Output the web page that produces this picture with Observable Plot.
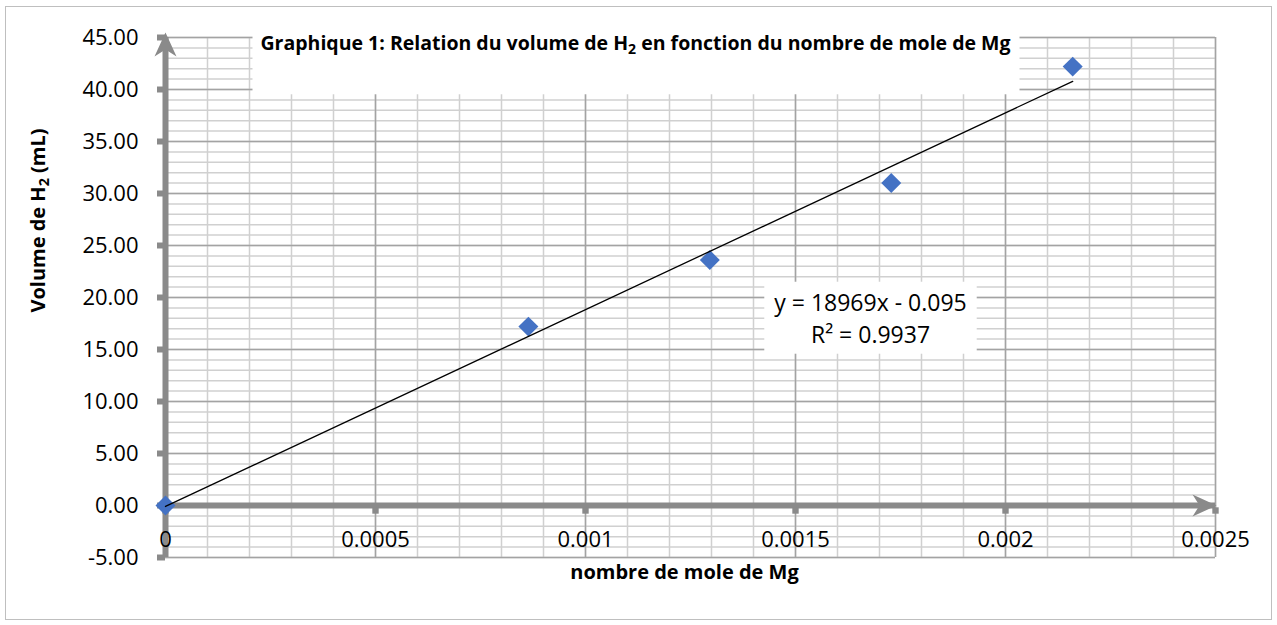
<!DOCTYPE html>
<html>
<head>
<meta charset="utf-8">
<script src="https://cdn.jsdelivr.net/npm/d3@7"></script>
<script src="https://cdn.jsdelivr.net/npm/@observablehq/plot@0.6"></script>
<style>
  body { margin: 0; background: #fff; }
  #wrap { position: relative; width: 1277px; height: 625px; }
  #wrap svg { position: absolute; left: 0; top: 0; display: block; }
  #border { position: absolute; left: 5px; top: 6px; width: 1267px; height: 614px;
            border: 1.5px solid #bfbfbf; box-sizing: border-box; pointer-events: none; }
</style>
</head>
<body>
<div id="wrap"><div id="border"></div></div>
<script>
// ---- data ----
const molesMg   = [0, 0.000864, 0.001296, 0.001728, 0.00216];
const volumeH2  = [0.00, 17.2, 23.6, 31.0, 42.2];
const xTicks    = [0, 0.0005, 0.001, 0.0015, 0.002, 0.0025];
const yTicks    = [-5, 0, 5, 10, 15, 20, 25, 30, 35, 40, 45];
const trendSlope = 18969;
const trendIntercept = -0.095;
const rSquared = 0.9937;
const titleText = "Graphique 1: Relation du volume de H2 en fonction du nombre de mole de Mg";
const xTitle = "nombre de mole de Mg";
const yTitle = "Volume de H2 (mL)";

const points = molesMg.map((x, i) => ({x, y: volumeH2[i]}));
const xMin = xTicks[0], xMax = xTicks[xTicks.length - 1];
const yMin = yTicks[0], yMax = yTicks[yTicks.length - 1];
const xMinor = d3.range(0, 26).map(i => i * 0.0001);
const yMinor = d3.range(yMin, yMax + 1, 1);

const axisGray = "#8a8a8a";
const majorGrid = "#a3a3a3";
const minorGrid = "#d0d0d0";
const font = "Open Sans";

const arrowUp = { draw(ctx) { ctx.moveTo(0, 0); ctx.lineTo(11, 24); ctx.lineTo(0, 17); ctx.lineTo(-11, 24); ctx.closePath(); } };
const arrowRight = { draw(ctx) { ctx.moveTo(0, 0); ctx.lineTo(-24, -11); ctx.lineTo(-17, 0); ctx.lineTo(-24, 11); ctx.closePath(); } };

const eqText = `y = ${trendSlope}x ${trendIntercept < 0 ? "-" : "+"} ${Math.abs(trendIntercept)}\nR² = ${rSquared}`;

const svg = Plot.plot({
  width: 1277,
  height: 625,
  marginLeft: 165,
  marginRight: 62,
  marginTop: 37,
  marginBottom: 68,
  style: { fontFamily: font, fontSize: "22px", color: "black", background: "transparent", overflow: "visible" },
  x: { domain: [xMin, xMax] },
  y: { domain: [yMin, yMax] },
  marks: [
    Plot.ruleY(yMinor, { stroke: minorGrid, strokeWidth: 1.5 }),
    Plot.ruleX(xMinor, { stroke: minorGrid, strokeWidth: 1.5 }),
    Plot.ruleY(yTicks, { stroke: majorGrid, strokeWidth: 1.5 }),
    Plot.ruleX(xTicks, { stroke: majorGrid, strokeWidth: 1.5 }),
    // axis lines
    Plot.ruleY([0], { x1: xMin, x2: xMax, stroke: axisGray, strokeWidth: 6 }),
    Plot.ruleX([0], { y1: yMin, y2: yMax, stroke: axisGray, strokeWidth: 6 }),
    Plot.axisY({ ticks: yTicks, tickFormat: d => d.toFixed(2), tickSize: 8, tickPadding: 19,
                 stroke: axisGray, strokeWidth: 6, label: null, fontSize: 22 }),
    Plot.dot(xTicks, { x: d => d, y: () => 0, symbol: "square", r: 3.6, dy: 5, fill: axisGray }),
    Plot.dot([yMax], { x: () => 0, y: d => d, symbol: arrowUp, fill: axisGray, dy: -5 }),
    Plot.dot([xMax], { x: d => d, y: () => 0, symbol: arrowRight, fill: axisGray, dx: 1 }),
    // data
    Plot.dot(points, { x: "x", y: "y", symbol: "diamond2", r: 9, fill: "#4472C4" }),
    Plot.linearRegressionY(points, { x: "x", y: "y", ci: 0, stroke: "black", strokeWidth: 1.3 }),
    Plot.axisX({ ticks: xTicks, tickFormat: d => String(+d.toFixed(4)), tickSize: 0, tickPadding: 0,
                 dy: -26, label: null, fontSize: 22 }),
    // titles
    Plot.text([xTitle], { frameAnchor: "bottom", dx: -6, dy: 21, fontWeight: "bold", fontSize: 20 }),
    Plot.text([yTitle], { frameAnchor: "left", textAnchor: "middle", dx: -127, dy: -77, rotate: -90, fontWeight: "bold", fontSize: 20 }),
    Plot.text([titleText], { frameAnchor: "top", dx: -55, dy: -1, fontWeight: "bold", fontSize: 19.5 }),
    Plot.text([eqText], { frameAnchor: "middle", dx: 180, dy: 19, fontSize: 23, lineHeight: 1.39 })
  ]
});

const wrap = document.getElementById("wrap");
wrap.insertBefore(svg, wrap.firstChild);

const NS = "http://www.w3.org/2000/svg";
function findText(str) {
  return Array.from(svg.querySelectorAll("text")).find(t => t.textContent === str);
}
function findTextStart(str) {
  return Array.from(svg.querySelectorAll("text")).find(t => t.textContent.startsWith(str));
}
function subscriptH2(t) {
  if (!t) return;
  const s = t.textContent;
  const i = s.indexOf("H2");
  if (i < 0) return;
  t.textContent = "";
  const a = document.createElementNS(NS, "tspan"); a.textContent = s.slice(0, i + 1);
  const b = document.createElementNS(NS, "tspan"); b.textContent = "2";
  b.setAttribute("dy", "0.28em"); b.setAttribute("font-size", "0.72em");
  const c = document.createElementNS(NS, "tspan"); c.textContent = s.slice(i + 2);
  c.setAttribute("dy", "-0.2em");
  t.append(a, b, c);
}
// white label background, placed in the text's own coordinate system
function boxBehind(el, padL, padR, padT, padB) {
  if (!el) return;
  const bb = el.getBBox();
  const r = document.createElementNS(NS, "rect");
  r.setAttribute("x", bb.x - padL);
  r.setAttribute("y", bb.y - padT);
  r.setAttribute("width", bb.width + padL + padR);
  r.setAttribute("height", bb.height + padT + padB);
  r.setAttribute("fill", "white");
  const tr = el.getAttribute("transform");
  if (tr) r.setAttribute("transform", tr);
  el.parentNode.insertBefore(r, el);
}
const titleEl = findText(titleText);
const yTitleEl = findText(yTitle);
const eqEl = findTextStart("y = ");
subscriptH2(titleEl);
subscriptH2(yTitleEl);
boxBehind(titleEl, 8, 9, 10, 36);
boxBehind(eqEl, 10, 10, 4, 4);
</script>
</body>
</html>
